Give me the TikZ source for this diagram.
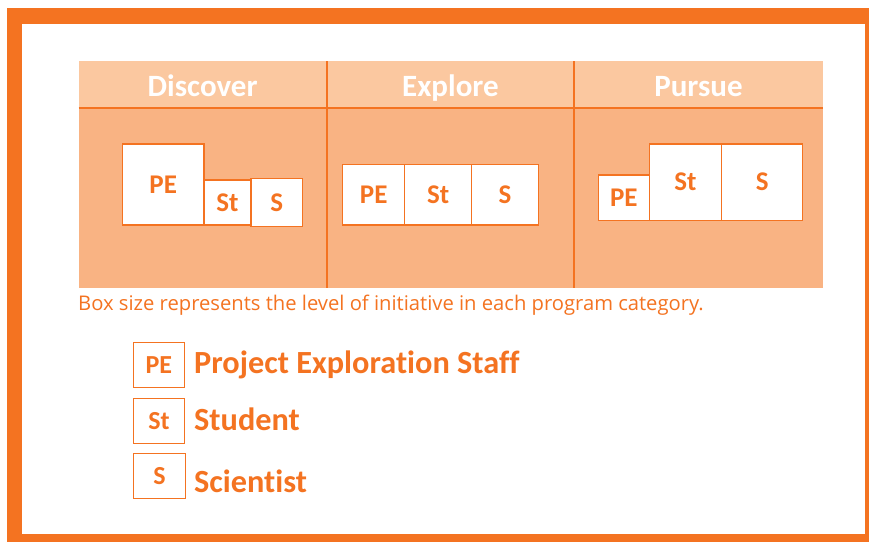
\documentclass[tikz,border=0pt]{standalone}
\usepackage{fontspec}
\setmainfont{Carlito}[Ligatures=NoCommon]
\newfontfamily\notefont{Open Sans}
\usepackage{tikz}
\definecolor{peorange}{HTML}{F47321}
\definecolor{headfill}{HTML}{FBC8A0}
\definecolor{bodyfill}{HTML}{F9B383}
\newcommand{\Frame}{
    \fill[white] (0,0) rectangle (869,542);
    \fill[peorange] (7,8) rectangle (869,542);
    \fill[white] (22,24) rectangle (865,534);
}
\newcommand{\Panel}{
    \fill[headfill] (78.7,61) rectangle (822.6,108);
    \fill[bodyfill] (78.7,108) rectangle (822.6,288);
    \draw[peorange, line width=2pt] (78.7,108) -- (822.6,108);
    \draw[peorange, line width=2pt] (326.5,61) -- (326.5,288);
    \draw[peorange, line width=2pt] (574.3,61) -- (574.3,288);
}
\begin{document}
\begin{tikzpicture}[x=1pt, y=-1pt,
    box/.style={draw=peorange, line width=1.2pt, fill=white, inner sep=0pt,
        text=peorange, font=\bfseries\fontsize{27}{27}\selectfont},
    keybox/.style={box, minimum height=45pt, font=\bfseries\fontsize{26}{26}\selectfont},
    head/.style={anchor=base, text=white, inner sep=0pt, font=\bfseries\fontsize{31}{31}\selectfont},
    keytext/.style={anchor=base west, inner sep=0pt, text=peorange, font=\bfseries\fontsize{32.3}{32.3}\selectfont},
    ]
    \useasboundingbox (0,0) rectangle (869,542);
    \Frame
    \Panel
    % column titles
    \node[head] (hDiscover) at (202.6,96.7) {Discover};
    \node[head] (hExplore) at (450.4,96.7) {Explore};
    \node[head] (hPursue) at (698.5,96.7) {Pursue};
    % Discover
    \node[box, minimum width=81.7pt, minimum height=81pt] (dPE) at (163.2,184.5) {PE};
    \node[box, minimum width=47pt, minimum height=45pt] (dSt) at (227.5,202.5) {St};
    \node[box, minimum width=51.7pt, minimum height=48pt] (dS) at (276.8,202.7) {S};
    % Explore
    \node[box, minimum width=62pt, minimum height=60.3pt] (ePE) at (373.7,194.8) {PE};
    \node[box, minimum width=67pt, minimum height=60.3pt] (eSt) at (438.2,194.8) {St};
    \node[box, minimum width=66.6pt, minimum height=60.3pt] (eS) at (505,194.8) {S};
    % Pursue
    \node[box, minimum width=51pt, minimum height=45.3pt] (pPE) at (623.8,197.7) {PE};
    \node[box, minimum width=72.4pt, minimum height=76.3pt] (pSt) at (685.5,182.2) {St};
    \node[box, minimum width=81pt, minimum height=76.3pt] (pS) at (762.2,182.2) {S};
    \node[anchor=base west, inner sep=0pt, text=peorange,
        font=\notefont\fontsize{20.2}{20.2}\selectfont] (note) at (78,310)
        {Box size represents the level of initiative in each program category.};
    % legend
    \node[keybox, minimum width=51pt] (kPE) at (158.8,364.8) {PE};
    \node[keybox, minimum width=51.4pt] (kSt) at (159,421) {St};
    \node[keybox, minimum width=52.4pt] (kS) at (159.5,476) {S};
    \node[keytext] (tPE) at (194,373.3) {Project Exploration Staff};
    \node[keytext] (tSt) at (194,430) {Student};
    \node[keytext] (tS) at (194,492.7) {Scientist};
\end{tikzpicture}
\end{document}
